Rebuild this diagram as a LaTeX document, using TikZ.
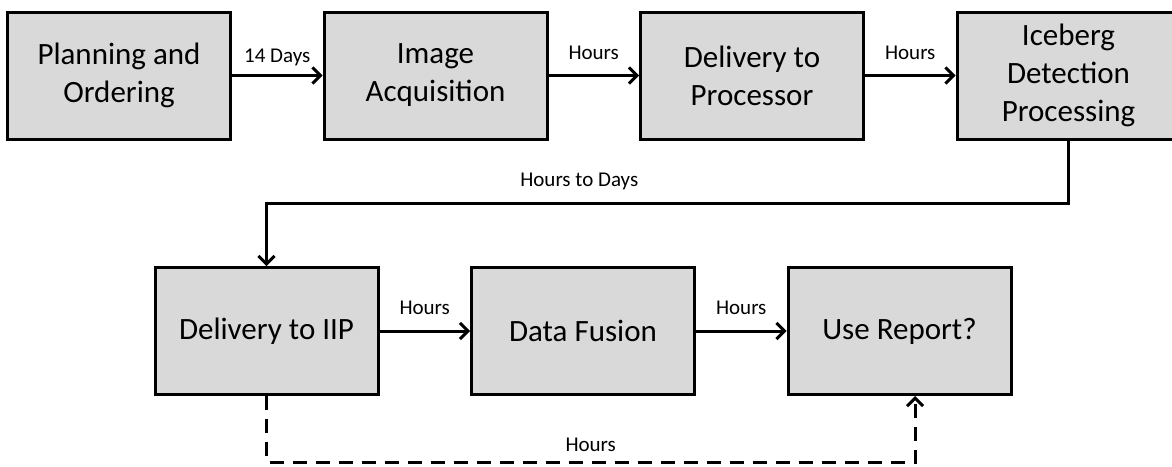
\documentclass[tikz,border=0pt]{standalone}
\usepackage{fontspec}
\setmainfont{Carlito}
\usetikzlibrary{arrows.meta}
\definecolor{boxgray}{HTML}{D9D9D9}

\begin{document}
\begin{tikzpicture}[x=1pt,y=-1pt,
	stage/.style={draw,line width=3pt,fill=boxgray,minimum width=223pt,minimum height=127pt,
		align=center,font=\fontsize{31}{38}\selectfont,inner sep=0pt},
	conn/.style={line width=3pt,-{Straight Barb[length=8pt,width=16pt,line width=3pt]}},
	dconn/.style={conn,dash pattern=on 14pt off 9pt},
	lbl/.style={font=\fontsize{21}{25}\selectfont,inner sep=0pt,text depth=0pt}]
	\useasboundingbox (0,0) rectangle (1172,466);
	\node[stage] (plan) at (119,75.5) {Planning and\\Ordering};
	\node[stage] (acq) at (435.5,75.5) {Image\\Acquisition};
	\node[stage] (dproc) at (752,75.5) {Delivery to\\Processor};
	\node[stage] (ice) at (1068.5,75.5) {Iceberg\\Detection\\Processing};
	\node[stage] (diip) at (266.5,331) {Delivery to IIP};
	\node[stage] (fus) at (583,331) {Data Fusion};
	\node[stage] (use) at (899.5,331) {Use Report?};
	\draw[conn] (plan) -- node[lbl,above=12pt] {14 Days} (acq);
	\draw[conn] (acq) -- node[lbl,above=15pt] {Hours} (dproc);
	\draw[conn] (dproc) -- node[lbl,above=15pt] {Hours} (ice);
	\draw[conn] (ice.south) -- ++(0,63) coordinate (turn)
		-- node[lbl,above=16pt,pos=0.61] {Hours to Days} (turn -| diip.north) -- (diip.north);
	\draw[conn] (diip) -- node[lbl,above=15pt] {Hours} (fus);
	\draw[conn] (fus) -- node[lbl,above=15pt] {Hours} (use);
	\coordinate (back) at (915,462);
	\draw[dconn] (diip.south) |- node[lbl,above=9pt,pos=0.75] {Hours} (back) -- (back |- use.south);
\end{tikzpicture}
\end{document}
